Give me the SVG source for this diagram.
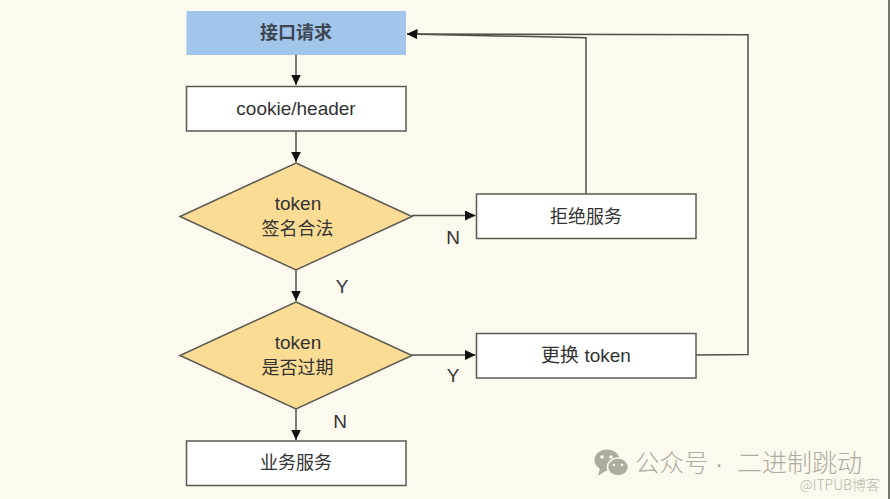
<svg xmlns="http://www.w3.org/2000/svg" width="890" height="499" viewBox="0 0 890 499">
<style>
.box{fill:#fff;stroke:#5c5a52;stroke-width:1.500}
.dia{fill:#fbdc95;stroke:#5c5a52;stroke-width:1.500}
.t{font-family:"Liberation Sans","Noto Sans CJK SC",sans-serif;font-size:17.500px;fill:#333;text-anchor:middle}
.l{font-size:19px}
.c{fill:none;stroke:#4f4e48;stroke-width:1.500}
.wm{font-family:"Noto Sans CJK SC",sans-serif;fill:#aeaba1;font-weight:300}
</style>
<defs>
<marker id="a" markerUnits="userSpaceOnUse" markerWidth="11" markerHeight="10" refX="10.500" refY="5" orient="auto"><path d="M0 0L10.500 5L0 10Z" fill="#111"/></marker>
</defs>
<rect width="890" height="499" fill="#fdf9ee"/>
<rect x="888" width="2" height="499" fill="#77756f"/>
<g id="connectors">
<path class="c" d="M296 55V85" marker-end="url(#a)"/>
<path class="c" d="M296 131V162" marker-end="url(#a)"/>
<path class="c" d="M296 270V301" marker-end="url(#a)"/>
<path class="c" d="M296 409V440" marker-end="url(#a)"/>
<path class="c" d="M412 215.500H475.500" marker-end="url(#a)"/>
<path class="c" d="M412 355H475.500" marker-end="url(#a)"/>
<path class="c" d="M586 194V37.700L407 34" marker-end="url(#a)"/>
<path class="c" d="M696 355L748 354.500V34.700L407 34" marker-end="url(#a)"/>
</g>
<g id="n-request"><rect x="186.500" y="11" width="219.500" height="44" fill="#a2c5ec"/><text class="t" x="296" y="39" font-size="18" font-weight="700" style="fill:#3d4650;font-size:18px">接口请求</text></g>
<g id="n-cookie"><rect class="box" x="186.500" y="86.500" width="219.500" height="44.500"/><text class="t l" x="296" y="115">cookie/header</text></g>
<g id="n-sign"><path class="dia" d="M296 163L412 216.500L296 270L180 216.500Z"/><text class="t l" x="298" y="210">token</text><text class="t" x="297.500" y="234.500" style="font-size:18px">签名合法</text></g>
<g id="n-expire"><path class="dia" d="M296 302L412 355.500L296 409L180 355.500Z"/><text class="t l" x="298" y="349">token</text><text class="t" x="297.500" y="373.500" style="font-size:18px">是否过期</text></g>
<g id="n-reject"><rect class="box" x="476.500" y="194" width="219.500" height="44.500"/><text class="t" x="586" y="223" style="font-size:18px">拒绝服务</text></g>
<g id="n-change"><rect class="box" x="476.500" y="333.500" width="219.500" height="44.500"/><text class="t l" x="586" y="362">更换 token</text></g>
<g id="n-biz"><rect class="box" x="186.500" y="441" width="219.500" height="44.500"/><text class="t" x="296" y="469" style="font-size:18px">业务服务</text></g>
<text class="t l" x="453" y="243.500">N</text>
<text class="t l" x="342" y="292.500">Y</text>
<text class="t l" x="453" y="382">Y</text>
<text class="t l" x="340" y="427.500">N</text>
<g id="watermark">
<ellipse cx="607" cy="460" rx="12.500" ry="10.500" fill="#aeaba1"/>
<path d="M600 468L598 476L607 470Z" fill="#aeaba1"/>
<ellipse cx="618" cy="467" rx="10.500" ry="9" fill="#aeaba1" stroke="#fdf9ee" stroke-width="1.500"/>
<circle cx="602" cy="457" r="1.800" fill="#fdf9ee"/><circle cx="611" cy="457" r="1.800" fill="#fdf9ee"/>
<circle cx="614" cy="465" r="1.300" fill="#fdf9ee"/><circle cx="622" cy="465" r="1.300" fill="#fdf9ee"/>
<text class="wm" x="635" y="472" font-size="24.500">公众号</text>
<text x="719" y="472" font-size="24" text-anchor="middle" font-family="Liberation Sans,sans-serif" fill="#aeaba1">·</text>
<text class="wm" x="737" y="472" font-size="25">二进制跳动</text>
<text class="wm" x="880" y="490" font-size="14" text-anchor="end" style="fill:#b9b6ac">@ITPUB博客</text>
</g>
</svg>
